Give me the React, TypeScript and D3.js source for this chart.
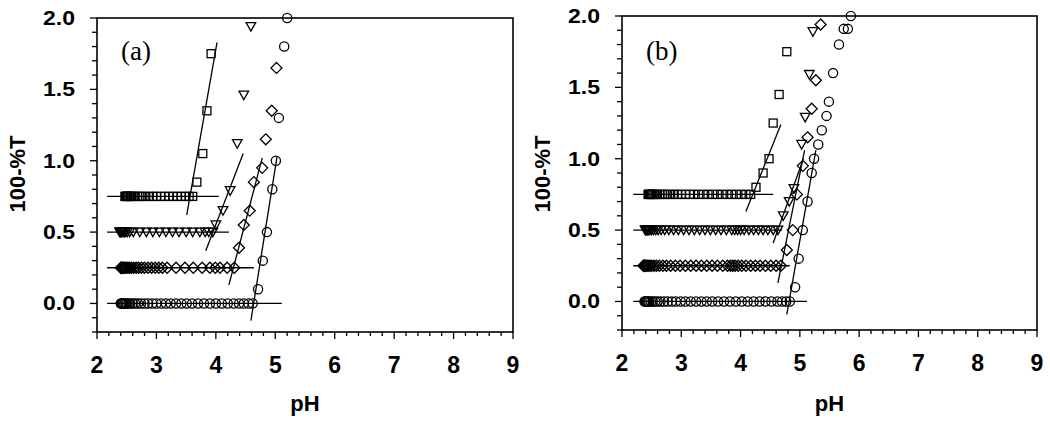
import React from 'react';
import * as d3 from 'd3';

// axis ticks (both panels)
const xTickValues = [2, 3, 4, 5, 6, 7, 8, 9];
const yTickValues = [0, 0.5, 1.0, 1.5, 2.0];

// offsets of each curve (100-%T) for the flat part
const circleLevel = 0;
const diamondLevel = 0.25;
const triangleLevel = 0.5;
const squareLevel = 0.75;

// ---- panel (a) ----
const aCircleFlat = [2.40, 2.41, 2.42, 2.43, 2.44, 2.46, 2.48, 2.50, 2.53, 2.56, 2.60, 2.64, 2.69, 2.74, 2.80, 2.86, 2.93, 3.00, 3.08, 3.16, 3.24, 3.33, 3.42, 3.51, 3.60, 3.70, 3.80, 3.90, 4.00, 4.10, 4.20, 4.30, 4.39, 4.47, 4.55, 4.62];
const aCircleRise = [[4.71, 0.10], [4.79, 0.30], [4.86, 0.50], [4.95, 0.80], [5.01, 1.00], [5.06, 1.30], [5.15, 1.80], [5.20, 2.00]];
const aDiamondFlat = [2.40, 2.41, 2.42, 2.43, 2.45, 2.47, 2.49, 2.52, 2.55, 2.58, 2.62, 2.66, 2.70, 2.75, 2.80, 2.86, 2.92, 2.98, 3.04, 3.10, 3.18, 3.33, 3.48, 3.62, 3.77, 3.90, 3.99, 4.07, 4.19, 4.31];
const aDiamondRise = [[4.39, 0.39], [4.47, 0.55], [4.57, 0.65], [4.64, 0.85], [4.78, 0.95], [4.84, 1.15], [4.94, 1.35], [5.02, 1.65]];
const aTriangleFlat = [2.38, 2.39, 2.40, 2.41, 2.42, 2.44, 2.46, 2.48, 2.51, 2.55, 2.61, 2.72, 2.83, 2.94, 3.05, 3.16, 3.27, 3.38, 3.50, 3.61, 3.73, 3.82, 3.88, 3.95];
const aTriangleRise = [[4.00, 0.55], [4.12, 0.65], [4.24, 0.79], [4.36, 1.12], [4.47, 1.46], [4.59, 1.94]];
const aSquareFlat = [2.47, 2.48, 2.49, 2.50, 2.51, 2.52, 2.54, 2.56, 2.58, 2.61, 2.64, 2.68, 2.72, 2.77, 2.82, 2.88, 2.94, 3.00, 3.07, 3.14, 3.21, 3.28, 3.35, 3.42, 3.49, 3.55, 3.61];
const aSquareRise = [[3.68, 0.85], [3.78, 1.05], [3.85, 1.35], [3.92, 1.75]];

// fitted lines: [start, end] as [pH, 100-%T]
const aCircleBase = [[2.17, 0], [5.11, 0]];
const aCircleFit = [[4.59, -0.12], [5.03, 1.03]];
const aDiamondBase = [[2.17, 0.25], [4.64, 0.25]];
const aDiamondFit = [[4.22, 0.13], [4.78, 1.02]];
const aTriangleBase = [[2.17, 0.5], [4.22, 0.5]];
const aTriangleFit = [[3.83, 0.37], [4.46, 1.05]];
const aSquareBase = [[2.17, 0.75], [4.05, 0.75]];
const aSquareFit = [[3.51, 0.62], [4.02, 1.83]];

// ---- panel (b) ----
const bCircleFlat = [2.38, 2.39, 2.40, 2.41, 2.42, 2.44, 2.46, 2.49, 2.52, 2.56, 2.60, 2.65, 2.71, 2.77, 2.84, 2.91, 2.99, 3.07, 3.16, 3.25, 3.34, 3.43, 3.52, 3.62, 3.72, 3.82, 3.92, 4.02, 4.12, 4.22, 4.32, 4.42, 4.52, 4.62, 4.70, 4.77, 4.83];
const bCircleRise = [[4.92, 0.10], [4.98, 0.30], [5.05, 0.50], [5.13, 0.70], [5.20, 0.90], [5.24, 1.00], [5.31, 1.10], [5.37, 1.20], [5.45, 1.30], [5.49, 1.40], [5.56, 1.60], [5.66, 1.80], [5.74, 1.91], [5.81, 1.91], [5.86, 2.00]];
const bDiamondFlat = [2.36, 2.37, 2.38, 2.39, 2.40, 2.42, 2.44, 2.47, 2.50, 2.54, 2.58, 2.63, 2.69, 2.75, 2.82, 2.90, 2.98, 3.07, 3.16, 3.25, 3.34, 3.43, 3.52, 3.61, 3.70, 3.78, 3.83, 3.87, 3.91, 3.96, 4.02, 4.09, 4.17, 4.25, 4.33, 4.42, 4.51, 4.60, 4.68];
const bDiamondRise = [[4.78, 0.36], [4.88, 0.50], [4.95, 0.75], [5.05, 0.95], [5.13, 1.15], [5.20, 1.35], [5.27, 1.55], [5.35, 1.94]];
const bTriangleFlat = [2.39, 2.40, 2.41, 2.42, 2.43, 2.45, 2.47, 2.50, 2.53, 2.57, 2.61, 2.66, 2.72, 2.79, 2.87, 2.95, 3.04, 3.13, 3.22, 3.31, 3.40, 3.49, 3.58, 3.67, 3.76, 3.85, 3.90, 3.95, 4.00, 4.06, 4.14, 4.22, 4.30, 4.38, 4.46, 4.55, 4.63];
const bTriangleRise = [[4.72, 0.60], [4.82, 0.70], [4.90, 0.79], [5.03, 1.10], [5.09, 1.29], [5.16, 1.59], [5.22, 1.89]];
const bSquareFlat = [2.44, 2.45, 2.46, 2.47, 2.48, 2.50, 2.52, 2.54, 2.57, 2.60, 2.64, 2.68, 2.72, 2.77, 2.82, 2.88, 2.94, 3.00, 3.07, 3.14, 3.21, 3.29, 3.37, 3.45, 3.53, 3.61, 3.69, 3.77, 3.85, 3.93, 4.01, 4.09, 4.17];
const bSquareRise = [[4.26, 0.80], [4.38, 0.90], [4.48, 1.00], [4.55, 1.25], [4.65, 1.45], [4.78, 1.75]];

const bCircleBase = [[2.19, 0], [5.12, 0]];
const bCircleFit = [[4.78, -0.09], [5.27, 1.06]];
const bDiamondBase = [[2.19, 0.25], [4.83, 0.25]];
const bDiamondFit = [[4.63, 0.13], [5.08, 1.06]];
const bTriangleBase = [[2.19, 0.5], [4.70, 0.5]];
const bTriangleFit = [[4.55, 0.41], [5.06, 1.00]];
const bSquareBase = [[2.19, 0.75], [4.55, 0.75]];
const bSquareFit = [[4.09, 0.63], [4.68, 1.24]];

type Series = { shape: string; level: number; flat: number[]; rise: number[][]; base: number[][]; fit: number[][] };

const panelA: Series[] = [
  { shape: 'circle', level: circleLevel, flat: aCircleFlat, rise: aCircleRise, base: aCircleBase, fit: aCircleFit },
  { shape: 'diamond', level: diamondLevel, flat: aDiamondFlat, rise: aDiamondRise, base: aDiamondBase, fit: aDiamondFit },
  { shape: 'triangle', level: triangleLevel, flat: aTriangleFlat, rise: aTriangleRise, base: aTriangleBase, fit: aTriangleFit },
  { shape: 'square', level: squareLevel, flat: aSquareFlat, rise: aSquareRise, base: aSquareBase, fit: aSquareFit },
];
const panelB: Series[] = [
  { shape: 'circle', level: circleLevel, flat: bCircleFlat, rise: bCircleRise, base: bCircleBase, fit: bCircleFit },
  { shape: 'diamond', level: diamondLevel, flat: bDiamondFlat, rise: bDiamondRise, base: bDiamondBase, fit: bDiamondFit },
  { shape: 'triangle', level: triangleLevel, flat: bTriangleFlat, rise: bTriangleRise, base: bTriangleBase, fit: bTriangleFit },
  { shape: 'square', level: squareLevel, flat: bSquareFlat, rise: bSquareRise, base: bSquareBase, fit: bSquareFit },
];

const boldFont = '"Liberation Sans", Arial, sans-serif';

function Marker({ shape, x, y }: { shape: string; x: number; y: number }) {
  const common = { fill: 'none', stroke: '#000', strokeWidth: 1.3 };
  if (shape === 'circle') return <circle cx={x} cy={y} r={4.6} {...common} />;
  if (shape === 'square') return <rect x={x - 4} y={y - 4} width={8} height={8} {...common} />;
  if (shape === 'diamond') return <path d={`M${x},${y - 5.5}L${x + 5.5},${y}L${x},${y + 5.5}L${x - 5.5},${y}Z`} {...common} />;
  return <path d={`M${x - 4.8},${y - 4}L${x + 4.8},${y - 4}L${x},${y + 4.6}Z`} {...common} />;
}

function Panel({ left, right, top, bottom, tag, series }: { left: number; right: number; top: number; bottom: number; tag: string; series: Series[] }) {
  const x = d3.scaleLinear().domain([2, 9]).range([left, right]);
  const y = d3.scaleLinear().domain([-0.2, 2.0]).range([bottom, top]);
  const xMinor = d3.range(20, 91, 2).map((d) => d / 10);
  const yMinor = d3.range(-2, 21, 1).map((d) => d / 10);
  const line = d3.line<number[]>().x((d) => x(d[0])).y((d) => y(d[1]));

  return (
    <g>
      {/* fitted lines */}
      {series.map((s, i) => (
        <g key={'l' + i} stroke="#000" strokeWidth={1.3} fill="none">
          <path d={line(s.base) || ''} />
          <path d={line(s.fit) || ''} />
        </g>
      ))}
      {/* markers */}
      {series.map((s, i) => (
        <g key={'m' + i}>
          {s.flat.map((p, j) => <Marker key={'f' + j} shape={s.shape} x={x(p)} y={y(s.level)} />)}
          {s.rise.map((p, j) => <Marker key={'r' + j} shape={s.shape} x={x(p[0])} y={y(p[1])} />)}
        </g>
      ))}

      {/* frame */}
      <rect x={left} y={top} width={right - left} height={bottom - top} fill="none" stroke="#000" strokeWidth={1.6} />

      {/* x ticks */}
      {xMinor.map((t) => {
        const major = Math.abs(t - Math.round(t)) < 1e-6;
        return <line key={'xt' + t} x1={x(t)} x2={x(t)} y1={bottom} y2={bottom + (major ? 7 : 4)} stroke="#000" strokeWidth={1.3} />;
      })}
      {xTickValues.map((t) => (
        <text key={'xl' + t} x={x(t)} y={bottom + 41} textAnchor="middle" fontFamily={boldFont} fontWeight="bold" fontSize={23}>{t}</text>
      ))}

      {/* y ticks */}
      {yMinor.map((t) => {
        const major = Math.abs(t * 2 - Math.round(t * 2)) < 1e-6;
        return <line key={'yt' + t} x1={left - (major ? 7 : 5)} x2={left} y1={y(t)} y2={y(t)} stroke="#000" strokeWidth={1.3} />;
      })}
      {yTickValues.map((t) => (
        <text key={'yl' + t} x={left - 22} y={y(t) + 7} textAnchor="end" fontFamily={boldFont} fontWeight="bold" fontSize={20} textLength={32} lengthAdjust="spacingAndGlyphs">{d3.format('.1f')(t)}</text>
      ))}

      {/* axis titles */}
      <text x={(left + right) / 2} y={411} textAnchor="middle" fontFamily={boldFont} fontWeight="bold" fontSize={22}>pH</text>
      <text transform={`translate(${left - 72},174) rotate(-90)`} textAnchor="middle" fontFamily={boldFont} fontWeight="bold" fontSize={22}>100-%T</text>

      <text x={left + 24} y={60} fontFamily='"Liberation Serif", "Times New Roman", serif' fontSize={27}>{tag}</text>
    </g>
  );
}

export default function App() {
  return (
    <div style={{ position: 'absolute', left: 0, top: 0 }}>
      <svg width={1050} height={425} style={{ display: 'block', background: '#fff' }}>
        <Panel left={97} right={513} top={18} bottom={332} tag="(a)" series={panelA} />
        <Panel left={622} right={1037} top={16} bottom={330} tag="(b)" series={panelB} />
      </svg>
    </div>
  );
}
